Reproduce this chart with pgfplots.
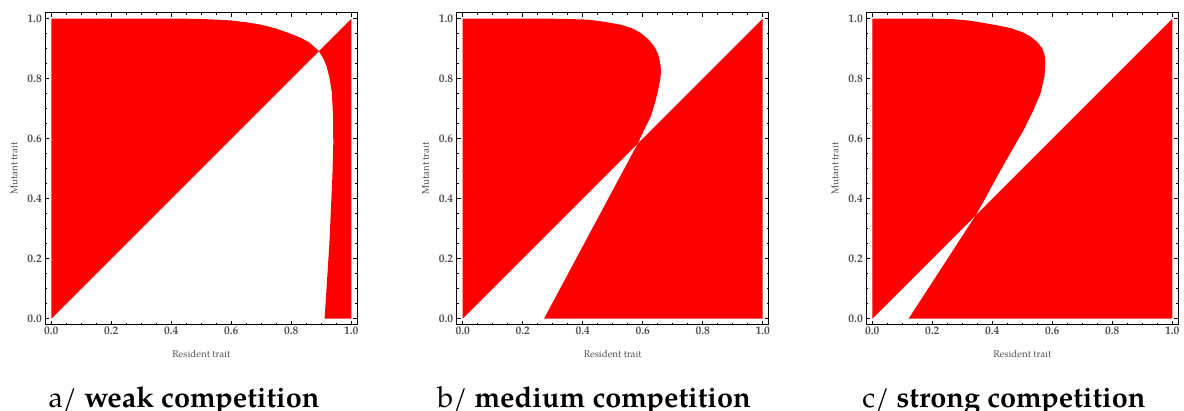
\documentclass[border=0pt]{standalone}
\usepackage{fontspec}
\usepackage{pgfplots}
\pgfplotsset{compat=1.18}
\newfontfamily\pal{texgyrepagella}[Extension=.otf, UprightFont=*-regular, BoldFont=*-bold, ItalicFont=*-italic, BoldItalicFont=*-bolditalic]
\definecolor{pipred}{RGB}{255,0,0}
\definecolor{labelgray}{RGB}{80,80,80}

\pgfplotsset{
  pip/.style={
    scale only axis, width=312pt, height=312pt,
    xmin=-0.02, xmax=1.02, ymin=-0.02, ymax=1.02,
    xtick={0,0.2,0.4,0.6,0.8,1}, ytick={0,0.2,0.4,0.6,0.8,1},
    minor tick num=3,
    tick align=inside,
    major tick length=4pt, minor tick length=2pt,
    every tick/.style={black, line width=0.6pt},
    axis line style={line width=0.8pt},
    tick label style={font=\pal\bfseries\fontsize{11.5}{13}\selectfont, text=labelgray},
    xticklabel style={yshift=1pt},
    /pgf/number format/.cd, fixed, fixed zerofill, precision=1, assume math mode=true, /pgfplots/.cd,
    xlabel={Resident trait}, ylabel={Mutant trait},
    label style={font=\pal\fontsize{9.8}{11}\selectfont, text=labelgray},
    xlabel style={at={(axis description cs:0.5,-0.093)}, anchor=center},
    ylabel style={at={(axis description cs:-0.1,0.5)}, anchor=center},
    region/.style={fill=pipred, draw=none},
  }
}

\begin{document}
\begin{tikzpicture}
\useasboundingbox (0pt,0pt) rectangle (1184pt,-410pt);

% weak competition
\begin{axis}[pip, at={(45.3pt,-12.7pt)}, anchor=north west]
\addplot[region] coordinates {
  (0,0) (0,1) (0.45,1) (0.5,0.999) (0.55,0.997) (0.6,0.994) (0.65,0.988)
  (0.7,0.980) (0.75,0.967) (0.8,0.949) (0.83,0.937) (0.86,0.921) (0.892,0.892)
} -- cycle;
\addplot[region] coordinates {
  (0.892,0.892) (1,1) (1,0) (0.911,0) (0.920,0.141) (0.927,0.252) (0.932,0.363)
  (0.937,0.474) (0.940,0.586) (0.939,0.68) (0.935,0.755) (0.927,0.805)
  (0.918,0.840) (0.907,0.867)
} -- cycle;
\end{axis}

% medium competition
\begin{axis}[pip, at={(456.7pt,-12.7pt)}, anchor=north west]
\addplot[region] coordinates {
  (0,0) (0,1) (0.3,1) (0.35,0.999) (0.416,0.997) (0.47,0.99) (0.527,0.98)
  (0.565,0.968) (0.594,0.952) (0.62,0.93) (0.638,0.908) (0.65,0.885)
  (0.656,0.863) (0.660,0.84) (0.661,0.82) (0.658,0.795) (0.653,0.77)
  (0.644,0.73) (0.627,0.674) (0.605,0.63) (0.583,0.583)
} -- cycle;
\addplot[region] coordinates {
  (0.583,0.583) (1,1) (1,0) (0.271,0)
} -- cycle;
\end{axis}

% strong competition
\begin{axis}[pip, at={(866.3pt,-12.7pt)}, anchor=north west]
\addplot[region] coordinates {
  (0,0) (0,1) (0.2,1) (0.26,0.999) (0.32,0.994) (0.371,0.986) (0.42,0.977)
  (0.46,0.969) (0.5,0.955) (0.527,0.941) (0.55,0.922) (0.566,0.902)
  (0.574,0.88) (0.577,0.852) (0.574,0.808) (0.561,0.752) (0.538,0.697)
  (0.505,0.63) (0.46,0.552) (0.416,0.474) (0.377,0.402) (0.345,0.345)
} -- cycle;
\addplot[region] coordinates {
  (0.345,0.345) (1,1) (1,0) (0.121,0)
} -- cycle;
\end{axis}

\begin{scope}[every node/.style={anchor=base, inner sep=0pt, font=\pal\fontsize{28.9}{32}\selectfont}]
\node at (184pt,-407.5pt) {a/ \textbf{weak competition}};
\node at (594pt,-407.5pt) {b/ \textbf{medium competition}};
\node at (1004pt,-407.5pt) {c/ \textbf{strong competition}};
\end{scope}
\end{tikzpicture}
\end{document}
